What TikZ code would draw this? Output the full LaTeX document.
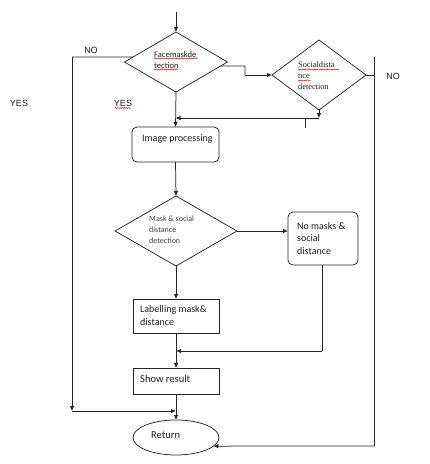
\documentclass[tikz,border=0pt]{standalone}
\usepackage{fontspec}
\setmainfont{Carlito}
\newfontfamily\arialf{Liberation Sans}
\newfontfamily\timesf{Liberation Serif}
\usetikzlibrary{arrows.meta,shapes.geometric,calc,decorations.pathmorphing}
\definecolor{ln}{HTML}{262626}
\definecolor{tx}{HTML}{1E1E1E}
\tikzset{
  conn/.style={draw=ln,line width=0.75pt},
  arr/.style={conn,-{Latex[length=5pt,width=4.5pt]}},
  dec/.style={diamond,draw=ln,line width=0.75pt,inner sep=0pt,outer sep=0pt},
  boxr/.style={rectangle,rounded corners=5pt,draw=ln,line width=0.75pt,inner sep=0pt,outer sep=0pt},
  boxs/.style={rectangle,draw=ln,line width=0.75pt,inner sep=0pt,outer sep=0pt},
  txt/.style={anchor=west,inner sep=0pt,align=left,text=tx},
  yn/.style={inner sep=0pt,text=tx,font=\arialf\fontsize{9}{10}\selectfont},
  spell/.style={draw=red!85!black,line width=0.4pt,decorate,decoration={snake,amplitude=0.55pt,segment length=2.2pt}}
}
\begin{document}
\begin{tikzpicture}[x=1pt,y=-1pt]
\useasboundingbox[fill=white] (0,0) rectangle (430,464);

% shapes
\node[dec,minimum width=103pt,minimum height=60pt] (face) at (176,62) {};
\node[dec,minimum width=94pt,minimum height=70pt] (social) at (319,75) {};
\node[boxr,minimum width=87pt,minimum height=35pt] (img) at (175.5,144.5) {};
\node[dec,minimum width=122pt,minimum height=70pt] (mask) at (176,231) {};
\node[boxr,minimum width=70pt,minimum height=53pt] (nomask) at (323,238.5) {};
\node[boxs,minimum width=86pt,minimum height=34pt] (label) at (176,316) {};
\node[boxs,minimum width=86pt,minimum height=26pt] (show) at (176,381) {};
\node[ellipse,draw=ln,line width=0.75pt,inner sep=0pt,outer sep=0pt,minimum width=86pt,minimum height=35pt] (ret) at (176,437.5) {};

% texts
\node[txt,font=\fontsize{8.5}{11}\selectfont] (tface) at (154,60) {Facemaskde\\tection};
\node[txt,font=\timesf\fontsize{8.3}{11}\selectfont] (tsocial) at (298,76) {Socialdista\\nce\\detection};
\node[txt,font=\fontsize{10}{12}\selectfont] (timg) at (142,139) {Image processing};
\node[txt,font=\fontsize{8}{11}\selectfont,text=black!75] (tmask) at (149,230) {Mask \& social\\distance\\detection};
\node[txt,font=\fontsize{10}{12.5}\selectfont] (tnomask) at (297,238.5) {No masks \&\\social\\distance};
\node[txt,font=\fontsize{10}{12.5}\selectfont] (tlabel) at (140,315.5) {Labelling mask\&\\distance};
\node[txt,font=\fontsize{10.5}{12}\selectfont] (tshow) at (140,379) {Show result};
\node[txt,font=\fontsize{10.5}{12}\selectfont] (tret) at (151,435) {Return};

\node[yn] (no1) at (91,50) {NO};
\node[yn] (yes1) at (123,103) {YES};
\node[yn] (yes2) at (19,103) {YES};
\node[yn] (no2) at (393,76) {NO};

% spell-check marks
\draw[spell] (154,58.5) -- (198,58.5);
\draw[spell] (154,69.5) -- (178,69.5);
\draw[spell] (298,69.5) -- (339,69.5);
\draw[spell] (298,80.5) -- (311,80.5);
\draw[spell] (115,108) -- (131,108);

% coordinates
\coordinate (start) at (176,12);
\coordinate (faceL) at ($(face.west)!0.167!(face.north)$);
\coordinate (faceR) at ($(face.east)!0.133!(face.south)$);
\coordinate (noL) at (72,57);
\coordinate (noLb) at (72,411);
\coordinate (joinR) at (245,66);
\coordinate (socB) at (319,118);
\coordinate (tick) at (305,118);
\coordinate (noRt) at (374,57);
\coordinate (noRb) at (374,446);
\coordinate (nmB) at (322,351);

% connectors
\draw[arr] (start) -- (face.north);
\draw[conn] (faceL) -- (noL);
\draw[arr] (noL) -- (noLb);
\draw[arr] (noLb) -- (noLb -| ret.north);
\draw[conn] (faceR) -- (joinR) -- (joinR |- social.west);
\draw[arr] (joinR |- social.west) -- (social.west);
\draw[arr] (social.south) -- (socB);
\draw[arr] (socB) -- (socB -| img.north);
\draw[conn] (tick) -- ++(0,10);
\draw[arr] (face.south) -- (img.north);
\draw[conn] (social.east) -- (social.east -| noRt);
\draw[conn] (noRt) -- (noRb);
\draw[arr] (noRb) -- (ret.-13);
\draw[arr] (img.south) -- (mask.north);
\draw[arr] (mask.east) -- (mask.east -| nomask.west);
\draw[conn] (nomask.south -| nmB) -- (nmB);
\draw[arr] (nmB) -- (nmB -| label.south);
\draw[arr] (mask.south) -- (label.north);
\draw[arr] (label.south) -- (show.north);
\draw[arr] (show.south) -- (ret.north);
\end{tikzpicture}
\end{document}
